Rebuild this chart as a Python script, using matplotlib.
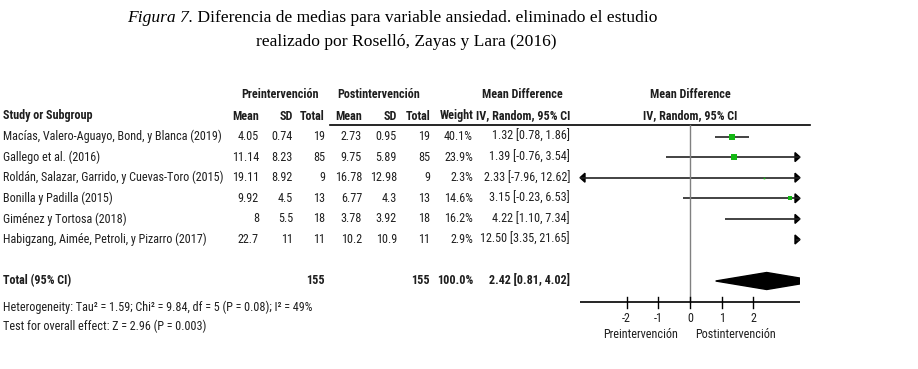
import os
import numpy as np
import matplotlib
matplotlib.use("Agg")
import matplotlib.pyplot as plt
from matplotlib import font_manager
from matplotlib.font_manager import FontProperties
from matplotlib.patches import Polygon

# data
studies = ["Macías, Valero-Aguayo, Bond, y Blanca (2019)",
           "Gallego et al. (2016)",
           "Roldán, Salazar, Garrido, y Cuevas-Toro (2015)",
           "Bonilla y Padilla (2015)",
           "Giménez y Tortosa (2018)",
           "Habigzang, Aimée, Petroli, y Pizarro (2017)"]
pre_mean = ["4.05", "11.14", "19.11", "9.92", "8", "22.7"]
pre_sd = ["0.74", "8.23", "8.92", "4.5", "5.5", "11"]
pre_n = [19, 85, 9, 13, 18, 11]
post_mean = ["2.73", "9.75", "16.78", "6.77", "3.78", "10.2"]
post_sd = ["0.95", "5.89", "12.98", "4.3", "3.92", "10.9"]
post_n = [19, 85, 9, 13, 18, 11]
weight = [40.1, 23.9, 2.3, 14.6, 16.2, 2.9]
md = [1.32, 1.39, 2.33, 3.15, 4.22, 12.50]
ci_lo = [0.78, -0.76, -7.96, -0.23, 1.10, 3.35]
ci_hi = [1.86, 3.54, 12.62, 6.53, 7.34, 21.65]

total_md, total_lo, total_hi = 2.42, 0.81, 4.02
heterogeneity = "Heterogeneity: Tau² = 1.59; Chi² = 9.84, df = 5 (P = 0.08); I² = 49%"
overall = "Test for overall effect: Z = 2.96 (P = 0.003)"
ticks = [-2, -1, 0, 1, 2]


# look for a narrow sans font (the original uses Arial Narrow)
def find_font():
    files = set(font_manager.findSystemFonts())
    files |= {f.fname for f in font_manager.fontManager.ttflist}
    base = {os.path.basename(f): f for f in files}
    pairs = [("LiberationSansNarrow-Regular", "LiberationSansNarrow-Bold"),
             ("RobotoCondensed-Regular", "RobotoCondensed-Bold"),
             ("Roboto_Condensed-Regular", "Roboto_Condensed-Bold"),
             ("DejaVuSansCondensed.", "DejaVuSansCondensed-Bold"),
             ("LiberationSans-Regular", "LiberationSans-Bold")]
    for reg, bold in pairs:
        r = [f for b, f in base.items() if b.startswith(reg)]
        bd = [f for b, f in base.items() if b.startswith(bold)]
        if r and bd:
            return r[0], bd[0]
    return None, None


reg_file, bold_file = find_font()
tcol = "#1e1e1e"

W, H = 918, 369
fig = plt.figure(figsize=(W / 100, H / 100), dpi=100)
ax = fig.add_axes([0, 0, 1, 1])
ax.set_xlim(0, W)
ax.set_ylim(H, 0)
ax.axis("off")
r = fig.canvas.get_renderer()


def props(bold=False, size=10):
    f = bold_file if bold else reg_file
    if f:
        return FontProperties(fname=f, size=size)
    return FontProperties(family="DejaVu Sans", stretch="condensed",
                          weight="bold" if bold else "normal", size=size)


# scale the table font so the first study name is about as wide as in the original
probe = ax.text(0, 0, studies[0], fontproperties=props(size=10))
fs = min(9.5, 10 * 218 / probe.get_window_extent(r).width)
probe.remove()

# forest panel spans x 580..800 px, zero at 690
px_per_unit = 31.7
x0, x1, xz = 580, 800, 690
fx = fig.add_axes([x0 / W, 0, (x1 - x0) / W, 1])
fx.set_xlim((x0 - xz) / px_per_unit, (x1 - xz) / px_per_unit)
fx.set_ylim(H, 0)
fx.axis("off")
fx.patch.set_alpha(0)


def txt(x, y, s, ha="right", bold=False, axes=None):
    (axes or ax).text(x, y, s, ha=ha, va="center", color=tcol,
                      fontproperties=props(bold, fs))


# title
title_kw = dict(fontsize=12.6, family="Liberation Serif", color="black", va="center")
t1a = ax.text(0, 18, "Figura 7.", style="italic", **title_kw)
t1b = ax.text(0, 18, " Diferencia de medias para variable ansiedad. eliminado el estudio", **title_kw)
wa = t1a.get_window_extent(r).width
wb = t1b.get_window_extent(r).width
start = 392 - (wa + wb) / 2
t1a.set_x(start)
t1b.set_x(start + wa)
ax.text(406, 42, "realizado por Roselló, Zayas y Lara (2016)", ha="center", **title_kw)

# headers
y_h1, y_h2 = 95, 116
txt(280, y_h1, "Preintervención", ha="center", bold=True)
txt(379, y_h1, "Postintervención", ha="center", bold=True)
txt(522, y_h1, "Mean Difference", ha="center", bold=True)
txt(690, y_h1, "Mean Difference", ha="center", bold=True)
txt(3, y_h2, "Study or Subgroup", ha="left", bold=True)
cols = [259, 293, 325, 362, 397, 430, 473]
for x, s in zip(cols, ["Mean", "SD", "Total", "Mean", "SD", "Total", "Weight"]):
    txt(x, y_h2, s, bold=True)
txt(570, y_h2, "IV, Random, 95% CI", bold=True)
txt(690, y_h2, "IV, Random, 95% CI", ha="center", bold=True)
ax.plot([330, 810], [124.5, 124.5], color="black", lw=1.2)

# study rows
row_y = 136.5 + 20.6 * np.arange(len(studies))
xl, xr = fx.get_xlim()
ah_w, ah_h = 5 / px_per_unit, 4.5
for i, y in enumerate(row_y):
    txt(3, y, studies[i], ha="left")
    vals = [pre_mean[i], pre_sd[i], pre_n[i], post_mean[i], post_sd[i], post_n[i],
            f"{weight[i]:.1f}%"]
    for x, v in zip(cols, vals):
        txt(x, y, str(v))
    txt(570, y, f"{md[i]:.2f} [{ci_lo[i]:.2f}, {ci_hi[i]:.2f}]")

    fx.plot([ci_lo[i], ci_hi[i]], [y, y], color="#222222", lw=1.2, solid_capstyle="butt")
    side = 1.1 * np.sqrt(weight[i]) / 1.389
    fx.plot([md[i]], [y], marker="s", ms=side, color="#14b814", mec="#14b814", mew=0)
    if ci_hi[i] > xr:
        fx.add_patch(Polygon([(xr, y), (xr - ah_w, y - ah_h), (xr - ah_w, y + ah_h)],
                             color="black", clip_on=False))
    if ci_lo[i] < xl:
        fx.add_patch(Polygon([(xl, y), (xl + ah_w, y - ah_h), (xl + ah_w, y + ah_h)],
                             color="black", clip_on=False))

# total row
y_tot = 281
txt(3, y_tot, "Total (95% CI)", ha="left", bold=True)
txt(325, y_tot, str(sum(pre_n)), bold=True)
txt(430, y_tot, str(sum(post_n)), bold=True)
txt(473, y_tot, "100.0%", bold=True)
txt(570, y_tot, f"{total_md:.2f} [{total_lo:.2f}, {total_hi:.2f}]", bold=True)
fx.add_patch(Polygon([(total_lo, y_tot), (total_md, y_tot - 8.5), (total_hi, y_tot),
                      (total_md, y_tot + 8.5)], color="black"))
txt(3, 307, heterogeneity, ha="left")
txt(3, 326, overall, ha="left")

# zero line and axis
fx.plot([0, 0], [124.5, 302], color="#808080", lw=1)
fx.plot([xl, xr], [302, 302], color="black", lw=1.2)
for t in ticks:
    fx.plot([t, t], [297, 308], color="black", lw=1)
    txt(t, 318, str(t), ha="center", axes=fx)
txt(678, 334, "Preintervención")
txt(695, 334, "Postintervención", ha="left")

fig.savefig("out.png", dpi=100)
